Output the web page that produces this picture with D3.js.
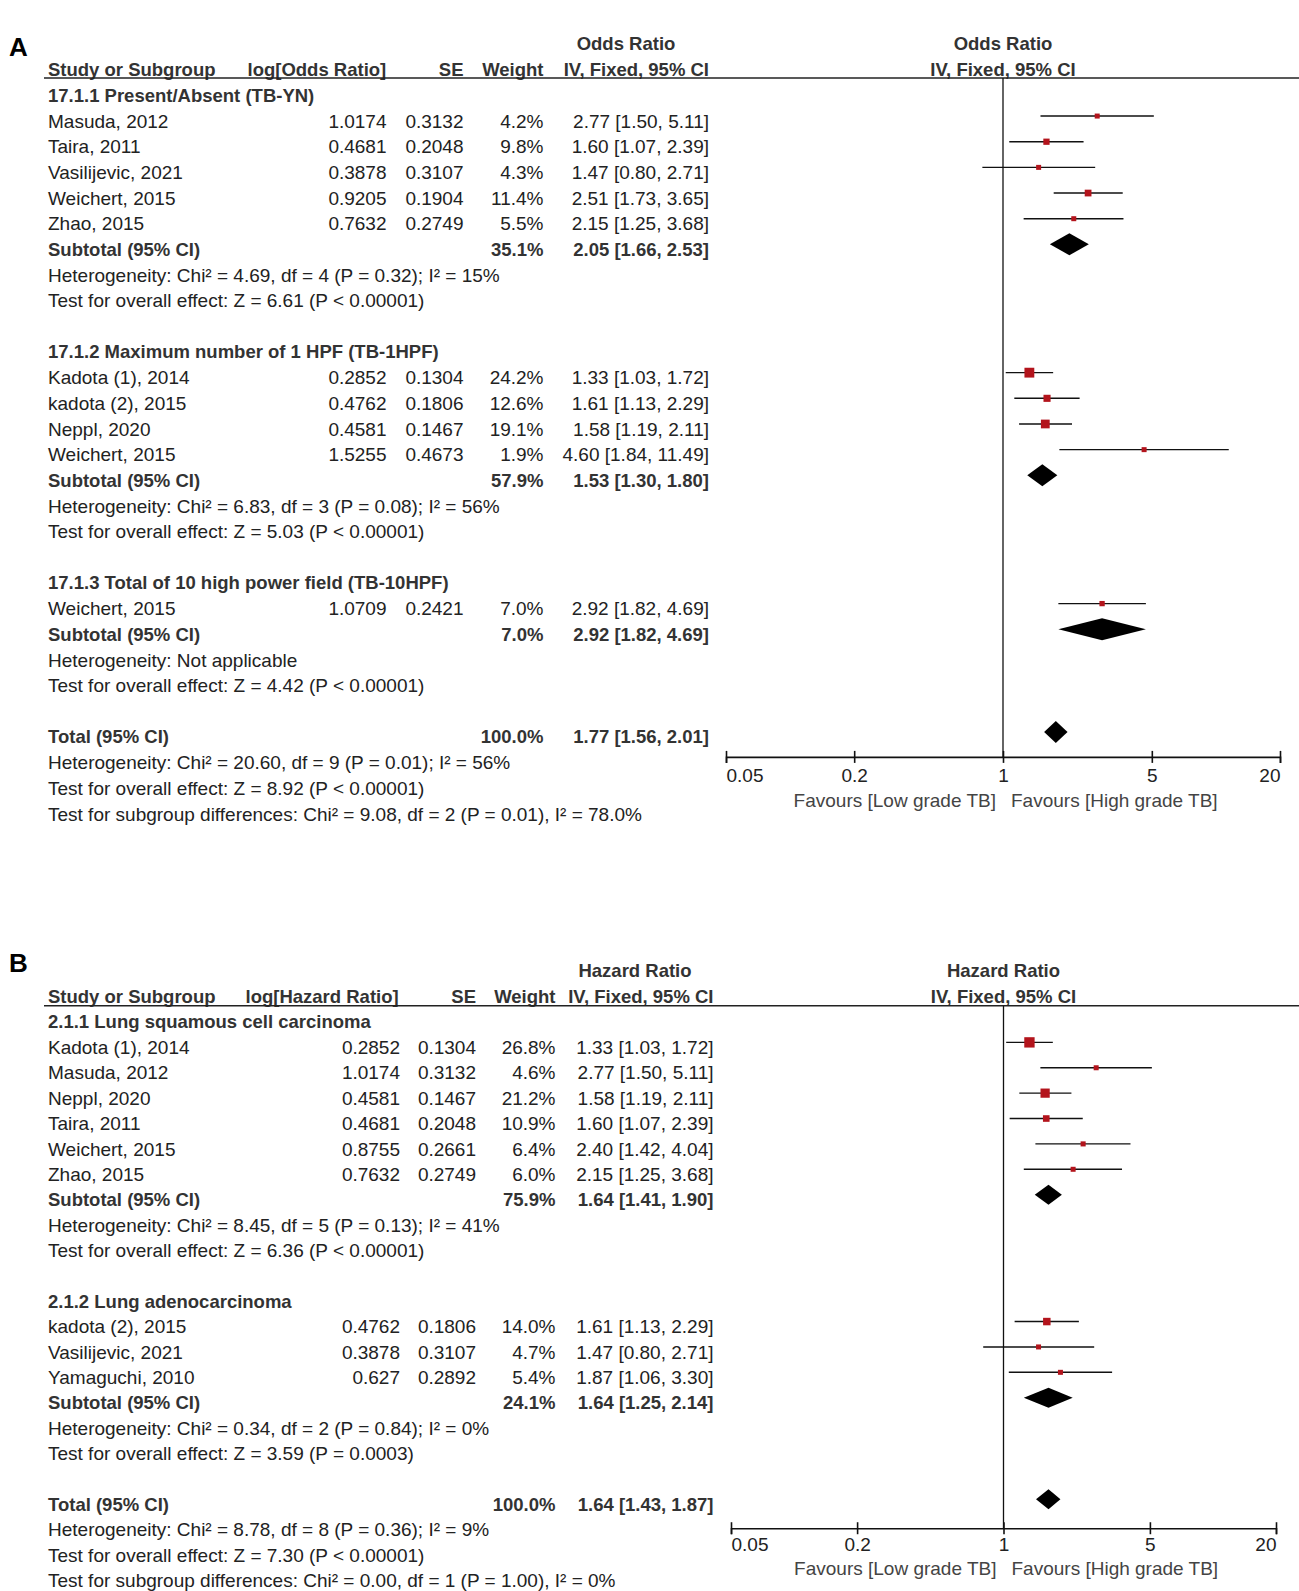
<!DOCTYPE html>
<html>
<head>
<meta charset="utf-8">
<script src="https://cdn.jsdelivr.net/npm/d3@7"></script>
<style>
body { margin: 0; background: #fff; }
svg text { font-family: "Liberation Sans", Arial, sans-serif; fill: #222; }
</style>
</head>
<body>
<svg id="chart" width="1299" height="1591"></svg>
<script>
// ---------- panel A : odds ratio ----------
var aGroups = ["17.1.1 Present/Absent (TB-YN)", "17.1.2 Maximum number of 1 HPF (TB-1HPF)", "17.1.3 Total of 10 high power field (TB-10HPF)"];
var aStudies = ["Masuda, 2012", "Taira, 2011", "Vasilijevic, 2021", "Weichert, 2015", "Zhao, 2015",
                "Kadota (1), 2014", "kadota (2), 2015", "Neppl, 2020", "Weichert, 2015",
                "Weichert, 2015"];
var aGroupOf = [0, 0, 0, 0, 0, 1, 1, 1, 1, 2];
var aLog = [1.0174, 0.4681, 0.3878, 0.9205, 0.7632, 0.2852, 0.4762, 0.4581, 1.5255, 1.0709];
var aSE = [0.3132, 0.2048, 0.3107, 0.1904, 0.2749, 0.1304, 0.1806, 0.1467, 0.4673, 0.2421];
var aWeight = [4.2, 9.8, 4.3, 11.4, 5.5, 24.2, 12.6, 19.1, 1.9, 7.0];
var aEst = [2.77, 1.60, 1.47, 2.51, 2.15, 1.33, 1.61, 1.58, 4.60, 2.92];
var aLo = [1.50, 1.07, 0.80, 1.73, 1.25, 1.03, 1.13, 1.19, 1.84, 1.82];
var aHi = [5.11, 2.39, 2.71, 3.65, 3.68, 1.72, 2.29, 2.11, 11.49, 4.69];
var aSubWeight = [35.1, 57.9, 7.0];
var aSubEst = [2.05, 1.53, 2.92];
var aSubLo = [1.66, 1.30, 1.82];
var aSubHi = [2.53, 1.80, 4.69];
var aHet = ["Heterogeneity: Chi\u00b2 = 4.69, df = 4 (P = 0.32); I\u00b2 = 15%",
            "Heterogeneity: Chi\u00b2 = 6.83, df = 3 (P = 0.08); I\u00b2 = 56%",
            "Heterogeneity: Not applicable"];
var aTest = ["Test for overall effect: Z = 6.61 (P < 0.00001)",
             "Test for overall effect: Z = 5.03 (P < 0.00001)",
             "Test for overall effect: Z = 4.42 (P < 0.00001)"];
var aTotal = [100.0, 1.77, 1.56, 2.01];
var aTotalText = ["Heterogeneity: Chi\u00b2 = 20.60, df = 9 (P = 0.01); I\u00b2 = 56%",
                  "Test for overall effect: Z = 8.92 (P < 0.00001)",
                  "Test for subgroup differences: Chi\u00b2 = 9.08, df = 2 (P = 0.01), I\u00b2 = 78.0%"];

// ---------- panel B : hazard ratio ----------
var bGroups = ["2.1.1 Lung squamous cell carcinoma", "2.1.2 Lung adenocarcinoma"];
var bStudies = ["Kadota (1), 2014", "Masuda, 2012", "Neppl, 2020", "Taira, 2011", "Weichert, 2015", "Zhao, 2015",
                "kadota (2), 2015", "Vasilijevic, 2021", "Yamaguchi, 2010"];
var bGroupOf = [0, 0, 0, 0, 0, 0, 1, 1, 1];
var bLog = [0.2852, 1.0174, 0.4581, 0.4681, 0.8755, 0.7632, 0.4762, 0.3878, 0.627];
var bSE = [0.1304, 0.3132, 0.1467, 0.2048, 0.2661, 0.2749, 0.1806, 0.3107, 0.2892];
var bWeight = [26.8, 4.6, 21.2, 10.9, 6.4, 6.0, 14.0, 4.7, 5.4];
var bEst = [1.33, 2.77, 1.58, 1.60, 2.40, 2.15, 1.61, 1.47, 1.87];
var bLo = [1.03, 1.50, 1.19, 1.07, 1.42, 1.25, 1.13, 0.80, 1.06];
var bHi = [1.72, 5.11, 2.11, 2.39, 4.04, 3.68, 2.29, 2.71, 3.30];
var bSubWeight = [75.9, 24.1];
var bSubEst = [1.64, 1.64];
var bSubLo = [1.41, 1.25];
var bSubHi = [1.90, 2.14];
var bHet = ["Heterogeneity: Chi\u00b2 = 8.45, df = 5 (P = 0.13); I\u00b2 = 41%",
            "Heterogeneity: Chi\u00b2 = 0.34, df = 2 (P = 0.84); I\u00b2 = 0%"];
var bTest = ["Test for overall effect: Z = 6.36 (P < 0.00001)",
             "Test for overall effect: Z = 3.59 (P = 0.0003)"];
var bTotal = [100.0, 1.64, 1.43, 1.87];
var bTotalText = ["Heterogeneity: Chi\u00b2 = 8.78, df = 8 (P = 0.36); I\u00b2 = 9%",
                  "Test for overall effect: Z = 7.30 (P < 0.00001)",
                  "Test for subgroup differences: Chi\u00b2 = 0.00, df = 1 (P = 1.00), I\u00b2 = 0%"];

// shared axis
var ticks = [0.05, 0.2, 1, 5, 20];
var tickLabels = ["0.05", "0.2", "1", "5", "20"];
var favours = ["Favours [Low grade TB]", "Favours [High grade TB]"];

var svg = d3.select("#chart");
var FS = 19;

function ci(e, l, h) { return e.toFixed(2) + " [" + l.toFixed(2) + ", " + h.toFixed(2) + "]"; }

function drawPanel(p) {
	var g = svg.append("g");

	// build the list of rows
	var rows = [];
	p.groups.forEach(function(name, gi) {
		rows.push({ kind: "group", text: name });
		p.studies.forEach(function(s, i) {
			if (p.groupOf[i] == gi) rows.push({ kind: "study", i: i });
		});
		rows.push({ kind: "sub", gi: gi });
		rows.push({ kind: "note", text: p.het[gi] });
		rows.push({ kind: "note", text: p.test[gi] });
		rows.push({ kind: "blank" });
	});
	rows.push({ kind: "total" });
	p.totalText.forEach(function(t) { rows.push({ kind: "note", text: t }); });

	var y = d3.scaleLinear().domain([0, rows.length - 1]).range([p.y0, p.y0 + p.pitch * (rows.length - 1)]);
	var x = d3.scaleLog().domain([0.05, 20]).range(p.xRange);
	var size = d3.scaleSqrt().domain([0, 100]).range([0, 20]);

	// panel letter
	g.append("text").attr("x", 9).attr("y", p.letterY).attr("dy", "0.35em")
		.style("font-size", "26px").style("font-weight", "bold").style("fill", "#000").text(p.letter);

	// headers
	function head(txt, xx, yy, anchor) {
		g.append("text").attr("x", xx).attr("y", yy).attr("dy", "0.35em").attr("text-anchor", anchor)
			.style("font-size", "18.5px").style("font-weight", "bold").style("fill", "#333").text(txt);
	}
	head(p.measure, p.col.ciC, p.head1, "middle");
	head(p.measure, x(1), p.head1, "middle");
	head("Study or Subgroup", p.col.name, p.head2, "start");
	head(p.logLabel, p.col.logL, p.head2, "start");
	head("SE", p.col.se, p.head2, "end");
	head("Weight", p.col.w, p.head2, "end");
	head("IV, Fixed, 95% CI", p.col.ci, p.head2, "end");
	head("IV, Fixed, 95% CI", x(1), p.head2, "middle");

	g.append("line").attr("x1", 44).attr("x2", 1299).attr("y1", p.line).attr("y2", p.line)
		.style("stroke", "#222").style("stroke-width", 1.6);

	// axis below the total diamond
	var axisY = y(rows.length - 4) + p.axisOff;
	g.append("line").attr("x1", x(1)).attr("x2", x(1)).attr("y1", p.line).attr("y2", axisY)
		.style("stroke", "#111").style("stroke-width", 1.3);

	var ax = g.append("g").attr("transform", "translate(0," + axisY + ")")
		.call(d3.axisBottom(x).tickValues(ticks).tickSizeOuter(0).tickSize(6)
			.tickFormat(function(d, i) { return tickLabels[i]; }));
	ax.select(".domain").style("stroke", "#111").style("stroke-width", 1.6);
	ax.selectAll(".tick line").attr("y1", -6).attr("y2", 6).style("stroke", "#111").style("stroke-width", 1.6);
	ax.selectAll(".tick text").attr("y", p.tickLab).attr("dy", "0.35em")
		.attr("text-anchor", function(d, i) { return i == 0 ? "start" : (i == ticks.length - 1 ? "end" : "middle"); })
		.style("font-size", FS + "px").style("font-family", "Liberation Sans, Arial, sans-serif").style("fill", "#222");
	g.append("text").attr("x", x(1) - 7).attr("y", axisY + p.favOff).attr("dy", "0.35em").attr("text-anchor", "end")
		.style("font-size", FS + "px").style("fill", "#444").text(favours[0]);
	g.append("text").attr("x", x(1) + 8).attr("y", axisY + p.favOff).attr("dy", "0.35em")
		.style("font-size", FS + "px").style("fill", "#444").text(favours[1]);

	function txt(t, xx, yy, anchor, bold) {
		g.append("text").attr("x", xx).attr("y", yy).attr("dy", "0.35em").attr("text-anchor", anchor)
			.style("font-size", bold ? "18.5px" : FS + "px")
			.style("font-weight", bold ? "bold" : "normal")
			.style("fill", bold ? "#333" : "#222").text(t);
	}
	function diamond(e, l, h, yy) {
		g.append("path")
			.attr("d", "M" + x(l) + "," + yy + "L" + x(e) + "," + (yy - p.dh) + "L" + x(h) + "," + yy + "L" + x(e) + "," + (yy + p.dh) + "Z")
			.style("fill", "#000");
	}

	rows.forEach(function(r, k) {
		var yy = y(k), my = yy - 5;
		if (r.kind == "group") txt(r.text, p.col.name, yy, "start", true);
		else if (r.kind == "note") txt(r.text, p.col.name, yy, "start", false);
		else if (r.kind == "study") {
			var i = r.i;
			txt(p.studies[i], p.col.name, yy, "start", false);
			txt(String(p.log[i]), p.col.log, yy, "end", false);
			txt(String(p.se[i]), p.col.se, yy, "end", false);
			txt(p.weight[i].toFixed(1) + "%", p.col.w, yy, "end", false);
			txt(ci(p.est[i], p.lo[i], p.hi[i]), p.col.ci, yy, "end", false);
			g.append("line").attr("x1", x(p.lo[i])).attr("x2", x(p.hi[i])).attr("y1", my).attr("y2", my)
				.style("stroke", "#111").style("stroke-width", 1.4);
			var s = Math.max(5, size(p.weight[i]));
			g.append("rect").attr("x", x(p.est[i]) - s / 2).attr("y", my - s / 2).attr("width", s).attr("height", s)
				.style("fill", "#b3141c");
		} else if (r.kind == "sub") {
			var gi = r.gi;
			txt("Subtotal (95% CI)", p.col.name, yy, "start", true);
			txt(p.subWeight[gi].toFixed(1) + "%", p.col.w, yy, "end", true);
			txt(ci(p.subEst[gi], p.subLo[gi], p.subHi[gi]), p.col.ci, yy, "end", true);
			diamond(p.subEst[gi], p.subLo[gi], p.subHi[gi], my);
		} else if (r.kind == "total") {
			txt("Total (95% CI)", p.col.name, yy, "start", true);
			txt(p.total[0].toFixed(1) + "%", p.col.w, yy, "end", true);
			txt(ci(p.total[1], p.total[2], p.total[3]), p.col.ci, yy, "end", true);
			diamond(p.total[1], p.total[2], p.total[3], my);
		}
	});
}

drawPanel({
	letter: "A", letterY: 47, measure: "Odds Ratio", logLabel: "log[Odds Ratio]",
	head1: 44, head2: 70, line: 78, y0: 95.4, pitch: 25.66, axisOff: 20, tickLab: 18, favOff: 43, dh: 11,
	xRange: [726, 1280],
	col: { name: 48, logL: 247.5, log: 386.5, se: 463.5, w: 543.5, ci: 709, ciC: 626 },
	groups: aGroups, studies: aStudies, groupOf: aGroupOf, log: aLog, se: aSE, weight: aWeight,
	est: aEst, lo: aLo, hi: aHi, subWeight: aSubWeight, subEst: aSubEst, subLo: aSubLo, subHi: aSubHi,
	het: aHet, test: aTest, total: aTotal, totalText: aTotalText
});

drawPanel({
	letter: "B", letterY: 963, measure: "Hazard Ratio", logLabel: "log[Hazard Ratio]",
	head1: 971, head2: 996.5, line: 1005.7, y0: 1022, pitch: 25.38, axisOff: 24, tickLab: 16.5, favOff: 40.5, dh: 10,
	xRange: [731, 1276],
	col: { name: 48, logL: 245.5, log: 400, se: 476, w: 555.5, ci: 713.5, ciC: 635 },
	groups: bGroups, studies: bStudies, groupOf: bGroupOf, log: bLog, se: bSE, weight: bWeight,
	est: bEst, lo: bLo, hi: bHi, subWeight: bSubWeight, subEst: bSubEst, subLo: bSubLo, subHi: bSubHi,
	het: bHet, test: bTest, total: bTotal, totalText: bTotalText
});
</script>
</body>
</html>
